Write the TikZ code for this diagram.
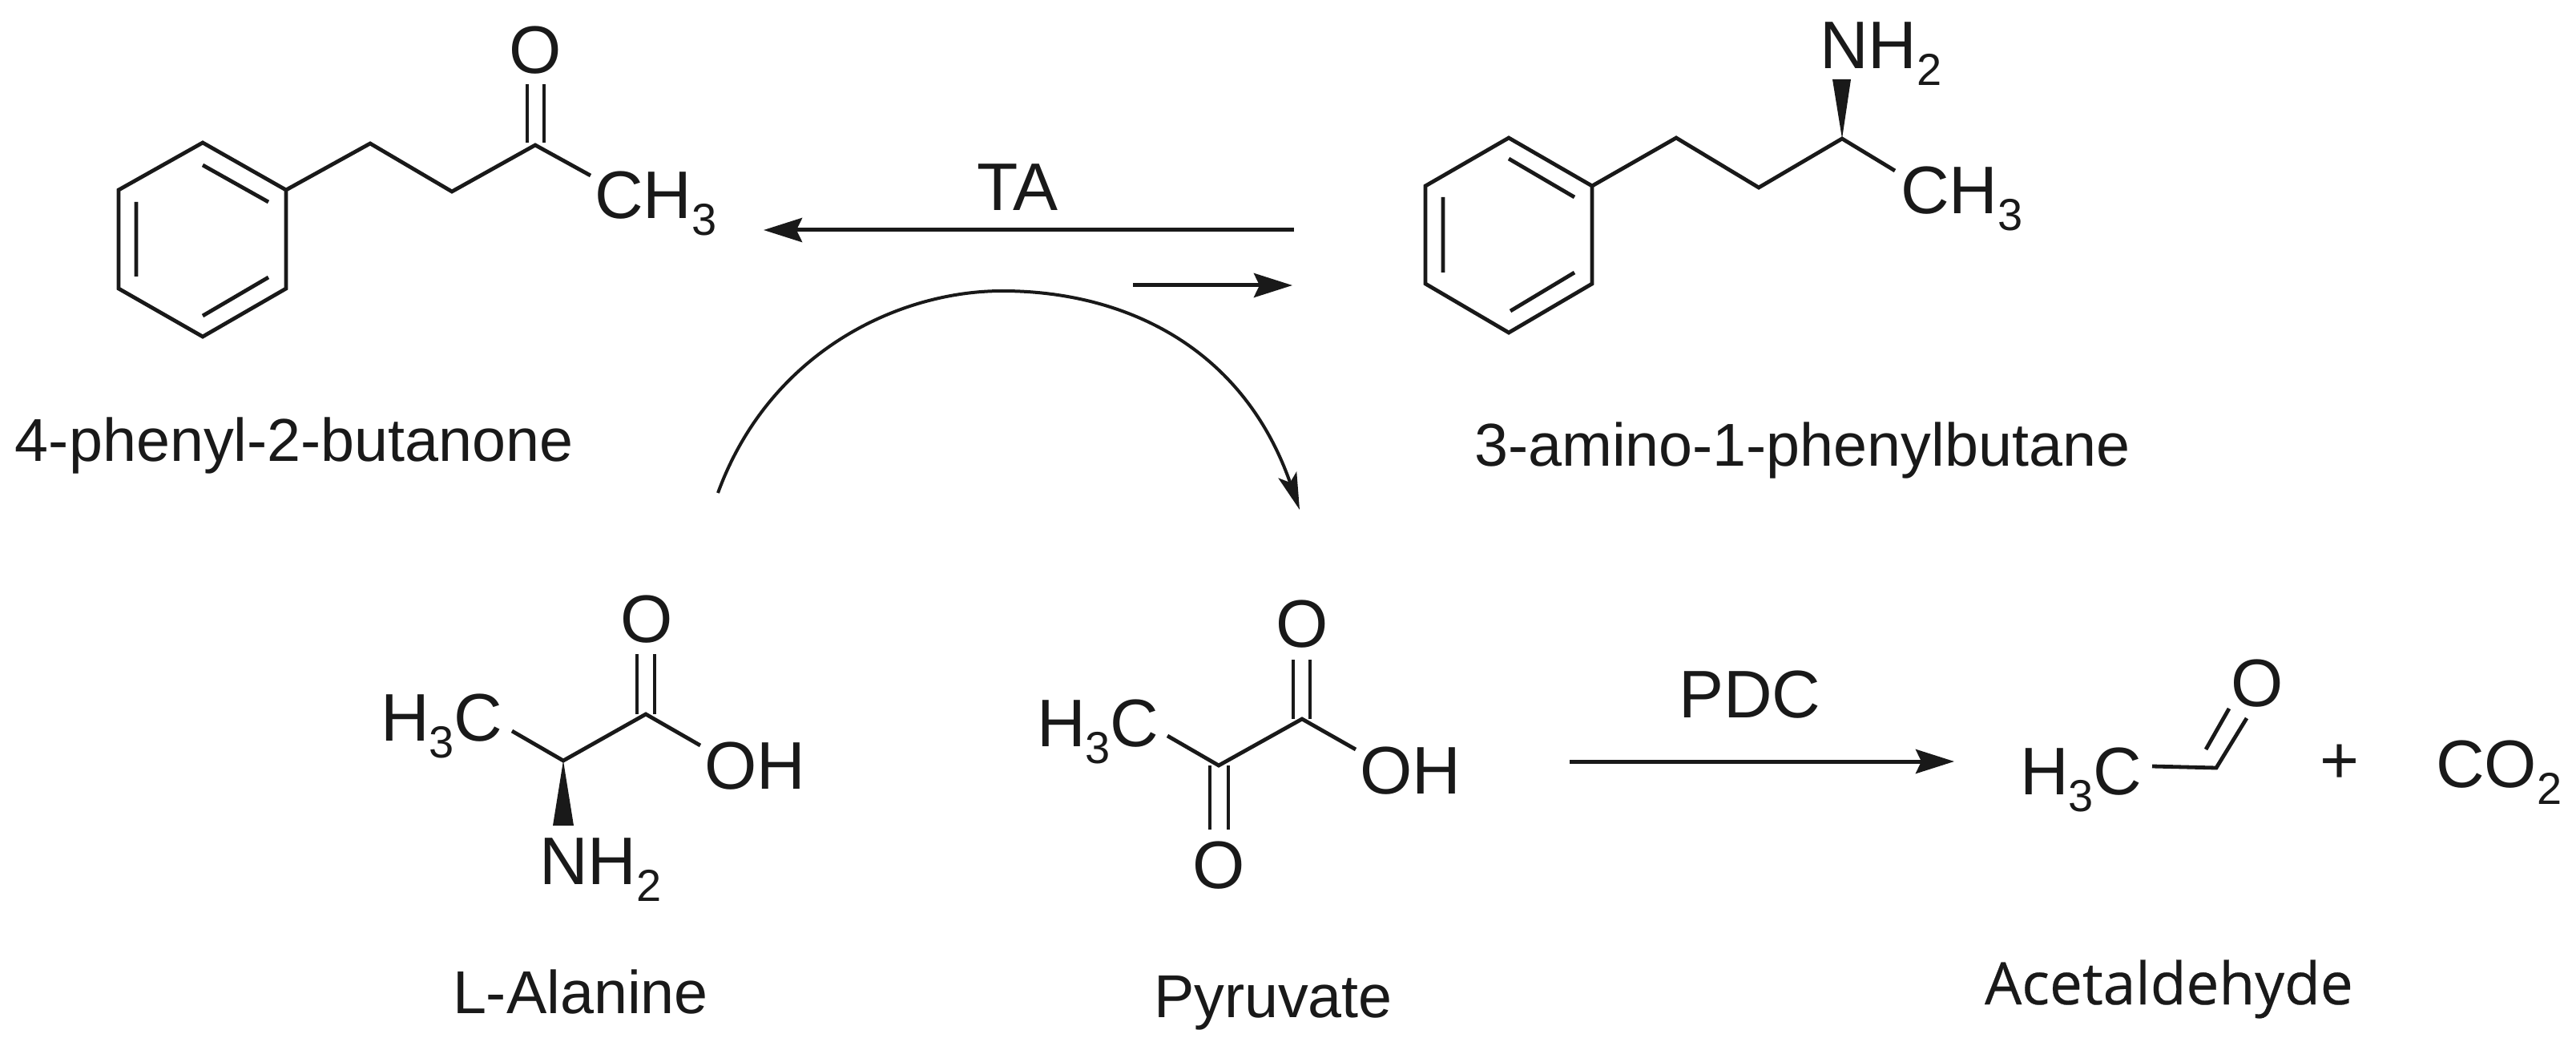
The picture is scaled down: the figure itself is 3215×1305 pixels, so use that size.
\documentclass[tikz,border=0pt]{standalone}
\usepackage{fontspec}
\setmainfont{Liberation Sans}
\newfontfamily\acetfont[FakeBold=0.3]{Open Sans}
\usetikzlibrary{arrows.meta}
\newcommand{\chemsub}[1]{\raisebox{-21pt}{\fontsize{56}{56}\selectfont #1}}
\tikzset{
  bond/.style={line width=4.8pt,line join=miter,line cap=butt,black!90},
  wedge/.style={fill=black!90,draw=none},
  atom/.style={inner sep=0pt,outer sep=0pt,anchor=base west,font=\fontsize{84}{90}\selectfont,text=black!90},
  oxy/.style={inner sep=0pt,outer sep=0pt,anchor=center,font=\fontsize{84}{90}\selectfont,text=black!90},
  caption/.style={inner sep=0pt,outer sep=0pt,anchor=base west,font=\fontsize{75.5}{80}\selectfont,text=black!90},
  rxn/.style={line width=5pt,black!90,-{Stealth[length=48pt,width=30pt,inset=7pt]}},
  swoop/.style={line width=4pt,black!90,-{Stealth[length=46pt,width=24pt,inset=10pt]}}
}
\begin{document}
\begin{tikzpicture}[x=1pt,y=-1pt]
\useasboundingbox[fill=white] (0,0) rectangle (3215,1305);

% 4-phenyl-2-butanone
\coordinate (a1) at (253,178); \coordinate (a2) at (357,237); \coordinate (a3) at (357,360);
\coordinate (a4) at (253,420); \coordinate (a5) at (148,360); \coordinate (a6) at (148,237);
\coordinate (a7) at (462,179); \coordinate (a8) at (564,239); \coordinate (a9) at (668,181);
\coordinate (a10) at (737,219);
\draw[bond] (a1)--(a2)--(a3)--(a4)--(a5)--(a6)--cycle;
\coordinate (a1i) at (253,206); \coordinate (a2i) at (335,252);
\coordinate (a3i) at (335,346); \coordinate (a4i) at (253,394);
\coordinate (a5i) at (170,345); \coordinate (a6i) at (170,252);
\draw[bond] (a1i)--(a2i) (a3i)--(a4i) (a5i)--(a6i);
\draw[bond] (a2)--(a7)--(a8)--(a9)--(a10);
\coordinate (a9l) at (658,178); \coordinate (a9lt) at (658,105);
\coordinate (a9r) at (679,178); \coordinate (a9rt) at (679,105);
\draw[bond] (a9l)--(a9lt) (a9r)--(a9rt);
\node[oxy] (aO) at (668,63) {O};
\node[atom] (aMe) at (742,273) {CH\chemsub{3}};
\node[caption] (aName) at (19,575) {4-phenyl-2-butanone};

% 3-amino-1-phenylbutane
\coordinate (b1) at (1883,172); \coordinate (b2) at (1987,232); \coordinate (b3) at (1987,354);
\coordinate (b4) at (1883,415); \coordinate (b5) at (1779,354); \coordinate (b6) at (1779,232);
\coordinate (b7) at (2092,172); \coordinate (b8) at (2195,234); \coordinate (b9) at (2299,173);
\coordinate (b10) at (2365,213);
\draw[bond] (b1)--(b2)--(b3)--(b4)--(b5)--(b6)--cycle;
\coordinate (b1i) at (1883,198); \coordinate (b2i) at (1965,246);
\coordinate (b3i) at (1965,340); \coordinate (b4i) at (1885,388);
\coordinate (b5i) at (1801,340); \coordinate (b6i) at (1801,246);
\draw[bond] (b1i)--(b2i) (b3i)--(b4i) (b5i)--(b6i);
\draw[bond] (b2)--(b7)--(b8)--(b9)--(b10);
\coordinate (b11) at (2287,99); \coordinate (b12) at (2310,99);
\fill[wedge] (b9)--(b11)--(b12)--cycle;
\node[atom] (bN) at (2271,86) {NH\chemsub{2}};
\node[atom] (bMe) at (2372,267) {CH\chemsub{3}};
\node[caption] (bName) at (1840,581) {3-amino-1-phenylbutane};

% TA arrows
\coordinate (ta1) at (1615,287); \coordinate (ta2) at (953,287);
\draw[rxn] (ta1)--(ta2);
\coordinate (ta3) at (1414,356); \coordinate (ta4) at (1613,356);
\draw[rxn] (ta3)--(ta4);
\node[atom] (TA) at (1219,263) {TA};

% Curved arrow
\coordinate (c1) at (896,615); \coordinate (c2) at (1251,363); \coordinate (c3) at (1622,636);
\draw[swoop] (c1) .. controls (960,440) and (1120,363) .. (c2)
             .. controls (1400,363) and (1550,430) .. (c3);

% L-Alanine
\coordinate (d1) at (639,912); \coordinate (d2) at (703,949); \coordinate (d3) at (806,891);
\coordinate (d4) at (874,930);
\draw[bond] (d1)--(d2)--(d3)--(d4);
\coordinate (d3l) at (795,891); \coordinate (d3lt) at (795,816);
\coordinate (d3r) at (817,891); \coordinate (d3rt) at (817,816);
\draw[bond] (d3l)--(d3lt) (d3r)--(d3rt);
\coordinate (d5) at (690,1030); \coordinate (d6) at (716,1030);
\fill[wedge] (d2)--(d5)--(d6)--cycle;
\node[oxy] (dO) at (807,773) {O};
\node[atom] (dMe) at (475,924) {H\chemsub{3}C};
\node[atom] (dOH) at (879,984) {OH};
\node[atom] (dN) at (673,1103) {NH\chemsub{2}};
\node[caption] (dName) at (565,1264) {L-Alanine};

% Pyruvate
\coordinate (e1) at (1457,918); \coordinate (e2) at (1521,955); \coordinate (e3) at (1625,897);
\coordinate (e4) at (1692,935);
\draw[bond] (e1)--(e2)--(e3)--(e4);
\coordinate (e3l) at (1614,897); \coordinate (e3lt) at (1614,823);
\coordinate (e3r) at (1635,897); \coordinate (e3rt) at (1635,823);
\draw[bond] (e3l)--(e3lt) (e3r)--(e3rt);
\coordinate (e2l) at (1510,955); \coordinate (e2lb) at (1510,1035);
\coordinate (e2r) at (1533,955); \coordinate (e2rb) at (1533,1035);
\draw[bond] (e2l)--(e2lb) (e2r)--(e2rb);
\node[oxy] (eO) at (1625,779) {O};
\node[oxy] (eO2) at (1521,1080) {O};
\node[atom] (eMe) at (1294,931) {H\chemsub{3}C};
\node[atom] (eOH) at (1697,990) {OH};
\node[caption] (eName) at (1440,1269) {Pyruvate};

% PDC arrow
\coordinate (p1) at (1959,950); \coordinate (p2) at (2439,950);
\draw[rxn] (p1)--(p2);
\node[atom] (PDC) at (2095,895) {PDC};

% Acetaldehyde, CO2
\coordinate (f1) at (2686,956); \coordinate (f2) at (2766,958); \coordinate (f3) at (2804,896);
\coordinate (f4) at (2753,935); \coordinate (f5) at (2782,884);
\draw[bond] (f1)--(f2)--(f3) (f4)--(f5);
\node[oxy] (fO) at (2817,853) {O};
\node[atom] (fMe) at (2521,991) {H\chemsub{3}C};
\node[caption,font=\acetfont\fontsize{73}{80}\selectfont] (fName) at (2477,1253) {Acetaldehyde};
\node[inner sep=0pt,anchor=center,font=\fontsize{84}{90}\selectfont,text=black!90] (plus) at (2920,953) {+};
\node[atom] (co2) at (3040,982) {CO\chemsub{2}};
\end{tikzpicture}
\end{document}
